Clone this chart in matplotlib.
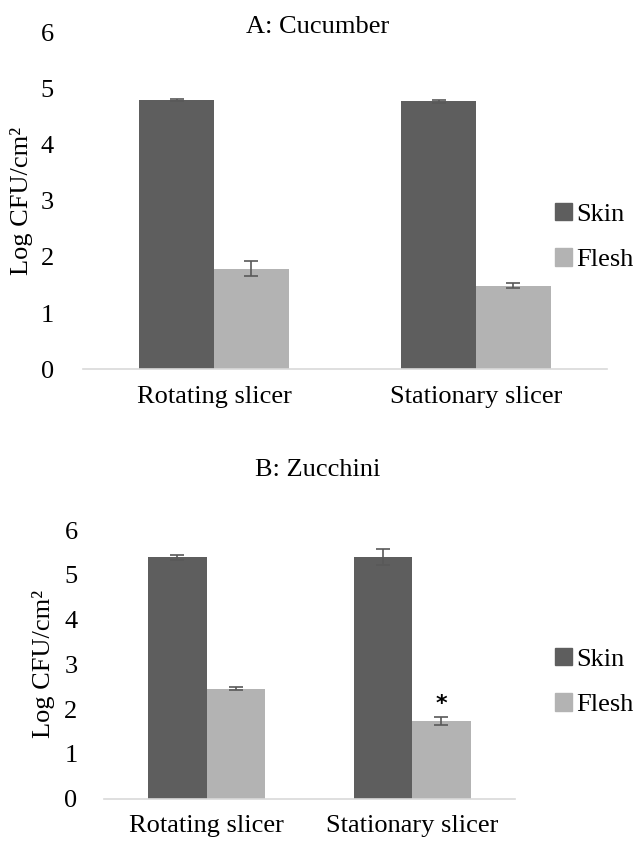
import numpy as np
import matplotlib
matplotlib.use("Agg")
import matplotlib.pyplot as plt
from matplotlib.patches import Patch

plt.rcParams['font.family'] = ['Liberation Serif', 'DejaVu Serif']

categories = ["Rotating slicer", "Stationary slicer"]
series = ["Skin", "Flesh"]

# cucumber (panel A)
cuc_skin = [4.79, 4.77]
cuc_skin_err = [0.02, 0.02]
cuc_flesh = [1.79, 1.49]
cuc_flesh_err = [0.13, 0.05]

# zucchini (panel B)
zuc_skin = [5.39, 5.40]
zuc_skin_err = [0.06, 0.17]
zuc_flesh = [2.46, 1.73]
zuc_flesh_err = [0.04, 0.09]

SKIN = "#5e5e5e"
FLESH = "#b3b3b3"
ERR = "#595959"
FS = 19


def draw_panel(ax, skin, skin_err, flesh, flesh_err, star=None, ypad=18):
    x = np.arange(len(categories))
    w = 0.285
    ax.bar(x - w / 2, skin, w, color=SKIN, label=series[0])
    ax.bar(x + w / 2, flesh, w, color=FLESH, label=series[1])
    ax.errorbar(x - w / 2, skin, yerr=skin_err, fmt="none", ecolor=ERR,
                elinewidth=1.2, capsize=5, capthick=1.2)
    ax.errorbar(x + w / 2, flesh, yerr=flesh_err, fmt="none", ecolor=ERR,
                elinewidth=1.2, capsize=5, capthick=1.2)
    if star is not None:
        i = star
        ax.text(x[i] + w / 2, flesh[i] + flesh_err[i] + 0.08, "*",
                ha="center", va="bottom", fontsize=16, fontweight="bold",
                family="DejaVu Sans")
    ax.set_xlim(-0.5, 1.5)
    ax.set_ylim(0, 6)
    ax.set_yticks(range(0, 7))
    ax.set_xticks(x)
    ax.set_xticklabels(categories, fontsize=FS)
    ax.tick_params(axis="both", length=0, labelsize=FS)
    ax.tick_params(axis="x", pad=12)
    ax.tick_params(axis="y", pad=ypad)
    for s in ["top", "right", "left"]:
        ax.spines[s].set_visible(False)
    ax.spines["bottom"].set_color("#d9d9d9")
    ax.spines["bottom"].set_linewidth(1.2)
    ax.set_ylabel("Log CFU/cm²", fontsize=FS)


fig = plt.figure(figsize=(6.36, 8.46), dpi=100)

axA = fig.add_axes([0.1305, 0.5635, 0.824, 0.3983])
draw_panel(axA, cuc_skin, cuc_skin_err, cuc_flesh, cuc_flesh_err, ypad=21)
axA.yaxis.set_label_coords(-50 / 524, 0.5)
fig.text(0.5, 1 - 27 / 846, "A: Cucumber", ha="center", va="center", fontsize=FS)

axB = fig.add_axes([0.1635, 0.0559, 0.646, 0.3176])
draw_panel(axB, zuc_skin, zuc_skin_err, zuc_flesh, zuc_flesh_err, star=1, ypad=19)
axB.yaxis.set_label_coords(-49 / 411, 0.5)
fig.text(0.5, 1 - 470 / 846, "B: Zucchini", ha="center", va="center", fontsize=FS)

handles = [Patch(color=SKIN, label="Skin"), Patch(color=FLESH, label="Flesh")]
for ax, ymid in [(axA, 237), (axB, 682)]:
    fig.legend(handles=handles, loc="center left",
               bbox_to_anchor=(555 / 636, 1 - ymid / 846), frameon=False,
               fontsize=FS, handlelength=0.65, handleheight=0.65,
               handletextpad=0.15, labelspacing=0.85, borderpad=0,
               borderaxespad=0)

fig.savefig("out.png", dpi=100)
